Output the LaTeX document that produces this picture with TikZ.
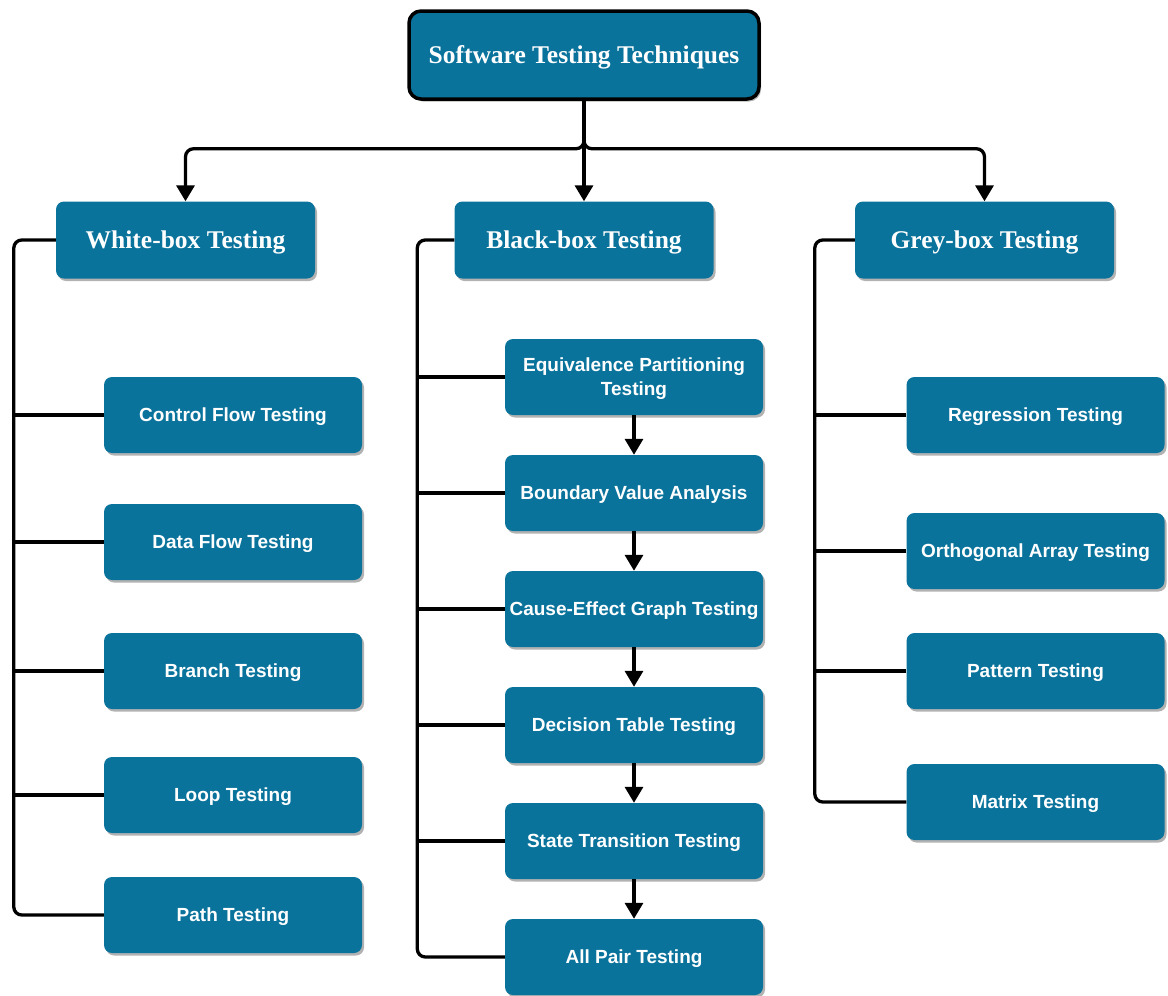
\documentclass[tikz,border=0pt]{standalone}
\usepackage{fontspec}
\setmainfont{Liberation Serif}
\setsansfont{Liberation Sans}
\usetikzlibrary{arrows.meta,shadows}
\definecolor{boxblue}{HTML}{0A739C}
\begin{document}
\begin{tikzpicture}[x=1pt,y=-1pt,
  base/.style={fill=boxblue, rounded corners=8pt, text=white, inner sep=0pt,
    drop shadow={shadow xshift=2pt,shadow yshift=-2.5pt,opacity=0.3,fill=black}},
  titlebox/.style={base, draw=black, line width=3.5pt, minimum width=350pt, minimum height=88pt,
    font=\fontsize{25.5}{30}\selectfont\bfseries\rmfamily, rounded corners=12pt, text depth=0pt},
  catbox/.style={base, minimum width=259pt, minimum height=77pt,
    font=\fontsize{25.5}{30}\selectfont\bfseries\rmfamily, text depth=0pt},
  leafbox/.style={base, minimum width=258pt, minimum height=76pt,
    font=\fontsize{19}{24}\selectfont\bfseries\sffamily, align=center, text depth=0pt},
  conn/.style={line width=3.3pt, rounded corners=8pt},
  arr/.style={conn, -{Triangle[width=18pt,length=16pt]}}
]
\useasboundingbox (0,0) rectangle (1168,996);

\node[titlebox] (title) at (584,55) {Software Testing Techniques};

\node[catbox] (white) at (185.5,240) {White-box Testing};
\node[catbox] (black) at (584,240) {Black-box Testing};
\node[catbox] (grey)  at (984.5,240) {Grey-box Testing};

% white-box leaves
\node[leafbox] (cf) at (233,415) {Control Flow Testing};
\node[leafbox] (df) at (233,542) {Data Flow Testing};
\node[leafbox] (br) at (233,671) {Branch Testing};
\node[leafbox] (lp) at (233,795) {Loop Testing};
\node[leafbox] (pt) at (233,915) {Path Testing};

% black-box leaves
\node[leafbox] (eq)  at (634,377) {Equivalence Partitioning\\Testing};
\node[leafbox] (bva) at (634,493) {Boundary Value Analysis};
\node[leafbox] (ce)  at (634,609) {Cause-Effect Graph Testing};
\node[leafbox] (dt)  at (634,725) {Decision Table Testing};
\node[leafbox] (st)  at (634,841) {State Transition Testing};
\node[leafbox] (ap)  at (634,957) {All Pair Testing};

% grey-box leaves
\node[leafbox] (reg) at (1035.5,415) {Regression Testing};
\node[leafbox] (oa)  at (1035.5,551) {Orthogonal Array Testing};
\node[leafbox] (pat) at (1035.5,671) {Pattern Testing};
\node[leafbox] (mat) at (1035.5,802) {Matrix Testing};

% top fork
\draw[arr] (title.south) -- (black.north);
\draw[arr] (title.south) -- ++(0,48) -| (white.north);
\draw[arr] (title.south) -- ++(0,48) -| (grey.north);

% white-box tree
\draw[conn] (white.west) -- ++(-42,0) |- (pt.west);
\foreach \n in {cf,df,br,lp} \draw[conn] (\n.west) -- ++(-90,0);

% black-box tree
\draw[conn] (black.west) -- ++(-37,0) |- (ap.west);
\foreach \n in {eq,bva,ce,dt,st} \draw[conn] (\n.west) -- ++(-87,0);
\draw[arr] (eq.south) -- (bva.north);
\draw[arr] (bva.south) -- (ce.north);
\draw[arr] (ce.south) -- (dt.north);
\draw[arr] (dt.south) -- (st.north);
\draw[arr] (st.south) -- (ap.north);

% grey-box tree
\draw[conn] (grey.west) -- ++(-40,0) |- (mat.west);
\foreach \n in {reg,oa,pat} \draw[conn] (\n.west) -- ++(-92,0);
\end{tikzpicture}
\end{document}
